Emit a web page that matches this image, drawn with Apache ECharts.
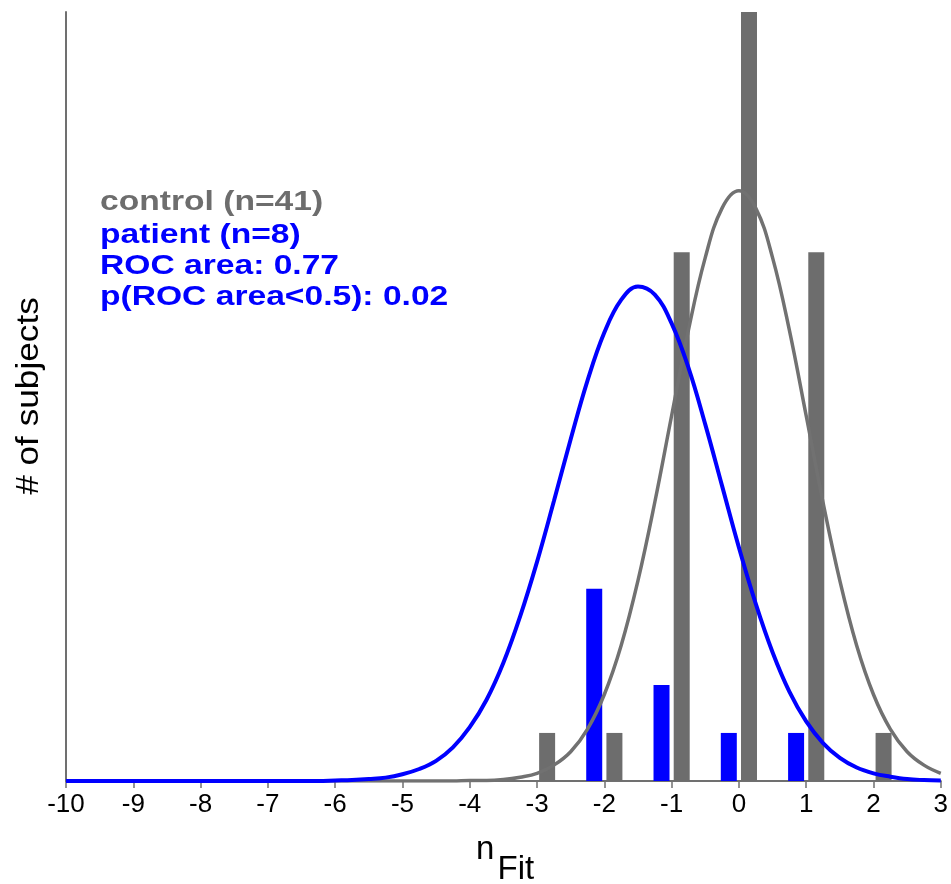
<!DOCTYPE html>
<html>
<head>
<meta charset="utf-8">
<script src="https://cdn.jsdelivr.net/npm/echarts@6/dist/echarts.min.js"></script>
<style>
html,body{margin:0;padding:0;background:#fff;}
#chart{width:951px;height:884px;}
</style>
</head>
<body>
<div id="chart"></div>
<script>
// ---- data ----
const xTickLabels = ['-10','-9','-8','-7','-6','-5','-4','-3','-2','-1','0','1','2','3'];

// histogram bars (position on n_Fit axis, number of subjects)
const controlBarX = [-2.85, -1.85, -0.85, 0.15, 1.15, 2.15];
const controlBarN = [1, 1, 11, 16, 11, 1];
const patientBarX = [-2.15, -1.15, -0.15, 0.85];
const patientBarN = [4, 2, 1, 1];

// fitted curves, sampled along n_Fit
const curveX = [-10,-9.75,-9.5,-9.25,-9,-8.75,-8.5,-8.25,-8,-7.75,-7.5,-7.25,-7,-6.75,-6.5,-6.25,
  -6,-5.75,-5.5,-5.25,-5,-4.75,-4.5,-4.25,-4,-3.75,-3.5,-3.25,-3,-2.75,-2.5,-2.25,-2,-1.75,-1.5,-1.25,
  -1,-0.75,-0.5,-0.25,0,0.25,0.5,0.75,1,1.25,1.5,1.75,2,2.25,2.5,2.75,3];
const controlFit = [0,0,0,0,0,0,0,0,0,0,0,0,0,0,0,0,
  0,0,0,0,0,0,0,0,0.01,0.01,0.03,0.08,0.16,0.33,0.61,1.08,1.80,2.82,4.17,5.80,
  7.60,9.38,10.89,11.92,12.28,11.92,10.89,9.38,7.60,5.80,4.17,2.82,1.80,1.08,0.61,0.33,0.16];
const patientFit = [0,0,0,0,0,0,0,0,0,0,0,0,0,0,0,0,
  0.01,0.02,0.04,0.07,0.14,0.25,0.42,0.70,1.12,1.69,2.46,3.43,4.56,5.82,7.11,8.33,9.33,10.01,10.29,10.12,
  9.52,8.60,7.42,6.14,4.86,3.69,2.68,1.86,1.24,0.79,0.48,0.28,0.16,0.09,0.04,0.02,0.01];

const legendLines = ['control (n=41)', 'patient (n=8)', 'ROC area: 0.77', 'p(ROC area<0.5): 0.02'];

// ---- styles ----
const GRAY = '#6d6d6d';
const BLUE = '#0000ff';
const FONT = "'Liberation Sans', Arial, Helvetica, sans-serif";

const zip = (xs, ys) => xs.map((x, i) => [x, ys[i]]);

const chart = echarts.init(document.getElementById('chart'), null, {renderer: 'canvas'});

const legendColors = [GRAY, BLUE, BLUE, BLUE];
const legendY = [202.5, 235.5, 266.5, 297];

const graphics = legendLines.map((t, i) => ({
  type: 'text',
  x: 100, y: legendY[i],
  scaleX: 1.2,
  z: 10,
  style: {
    text: t, fill: legendColors[i],
    font: 'bold 28px ' + FONT,
    align: 'left', verticalAlign: 'middle'
  }
}));
graphics.push({
  type: 'text', x: 29, y: 396, rotation: Math.PI / 2, scaleX: 1.1, z: 10,
  style: {text: '# of subjects', fill: '#000', font: '32px ' + FONT, align: 'center', verticalAlign: 'middle'}
});
graphics.push({
  type: 'text', x: 476, y: 850, z: 10,
  style: {text: 'n', fill: '#000', font: '33px ' + FONT, align: 'left', verticalAlign: 'middle'}
});
graphics.push({
  type: 'text', x: 497.5, y: 870, z: 10,
  style: {text: 'Fit', fill: '#000', font: '33px ' + FONT, align: 'left', verticalAlign: 'middle'}
});

const option = {
  backgroundColor: '#fff',
  animation: false,
  grid: {left: 66, right: 8, top: 12, bottom: 103, containLabel: false},
  xAxis: {
    type: 'value', min: -10, max: 3, interval: 1,
    axisLine: {show: true, onZero: false, lineStyle: {color: '#707070', width: 2}},
    axisTick: {show: true, inside: false, length: 7, lineStyle: {color: '#707070', width: 1.5}},
    axisLabel: {
      show: true, margin: 11, color: '#000', fontSize: 26, fontFamily: FONT,
      formatter: v => xTickLabels[Math.round(v) + 10]
    },
    splitLine: {show: false}
  },
  yAxis: {
    type: 'value', min: 0, max: 16,
    axisLine: {show: true, onZero: false, lineStyle: {color: '#707070', width: 2}},
    axisTick: {show: false},
    axisLabel: {show: false},
    splitLine: {show: false}
  },
  series: [
    {
      name: 'control', type: 'bar', barWidth: 16, barGap: '-100%',
      itemStyle: {color: GRAY}, z: 2,
      data: zip(controlBarX, controlBarN)
    },
    {
      name: 'patient', type: 'bar', barWidth: 16, barGap: '-100%',
      itemStyle: {color: BLUE}, z: 2,
      data: zip(patientBarX, patientBarN)
    },
    {
      name: 'control fit', type: 'line', smooth: 0.4, showSymbol: false, z: 3,
      lineStyle: {color: '#717171', width: 3.5},
      data: zip(curveX, controlFit)
    },
    {
      name: 'patient fit', type: 'line', smooth: 0.4, showSymbol: false, z: 4,
      lineStyle: {color: BLUE, width: 4},
      data: zip(curveX, patientFit)
    }
  ],
  graphic: graphics
};
chart.setOption(option);
</script>
</body>
</html>
